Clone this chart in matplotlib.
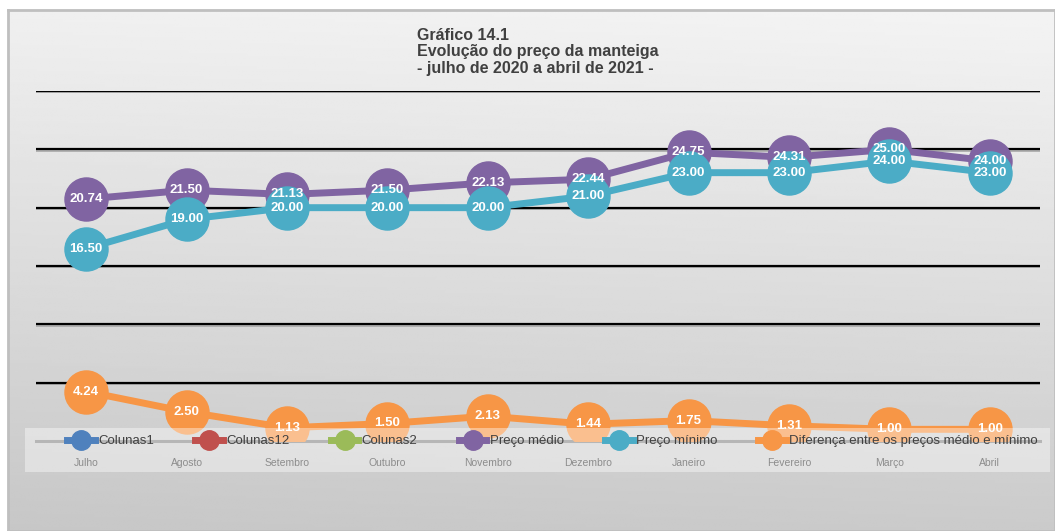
import numpy as np
import matplotlib
matplotlib.use("Agg")
import matplotlib.pyplot as plt
from matplotlib.lines import Line2D
from matplotlib.patches import Rectangle

plt.rcParams['font.family'] = ['Liberation Sans', 'DejaVu Sans']

# data
meses = ['Julho', 'Agosto', 'Setembro', 'Outubro', 'Novembro', 'Dezembro',
         'Janeiro', 'Fevereiro', 'Março', 'Abril']
preco_medio = [20.74, 21.50, 21.13, 21.50, 22.13, 22.44, 24.75, 24.31, 25.00, 24.00]
preco_minimo = [16.50, 19.00, 20.00, 20.00, 20.00, 21.00, 23.00, 23.00, 24.00, 23.00]
diferenca = [4.24, 2.50, 1.13, 1.50, 2.13, 1.44, 1.75, 1.31, 1.00, 1.00]
titulo = "Gráfico 14.1\nEvolução do preço da manteiga\n- julho de 2020 a abril de 2021 -"

c_medio = '#8064a2'
c_minimo = '#4bacc6'
c_dif = '#f79646'

W, H = 1055, 531
fig = plt.figure(figsize=(W / 100, H / 100), dpi=100)
fig.patch.set_facecolor('white')

# background panel with soft gradient
bg = fig.add_axes([8 / W, 0, 1 - 8 / W, 1 - 10 / H], zorder=-10)
gy, gx = np.mgrid[0:1:200j, 0:1:200j]
grad = 0.94 - 0.16 * gy + 0.015 * gx
bg.imshow(grad, cmap='gray', vmin=0, vmax=1, aspect='auto', extent=[0, 1, 1, 0])
bg.set_xlim(0, 1)
bg.set_ylim(1, 0)
bg.set_xticks([])
bg.set_yticks([])
for s in bg.spines.values():
    s.set_color('#bfbfbf')
    s.set_linewidth(2)

ax = fig.add_axes([36 / W, (H - 441) / H, (1040 - 36) / W, 350 / H])
ax.patch.set_alpha(0)
x = np.arange(len(meses))
ax.set_xlim(-0.5, len(meses) - 0.5)
ax.set_ylim(0, 30)

# gridlines, black with a faint shadow
for yv in range(5, 31, 5):
    ax.axhline(yv - 0.12, color='#a8a8a8', lw=1.2, zorder=1)
    ax.axhline(yv, color='black', lw=1.6, zorder=1.2)

ax.plot(x, preco_medio, color=c_medio, lw=5, marker='o', ms=31, zorder=3)
ax.plot(x, preco_minimo, color=c_minimo, lw=5, marker='o', ms=31, zorder=3.5)
ax.plot(x, diferenca, color=c_dif, lw=5, marker='o', ms=31, zorder=4)

for serie in (preco_medio, preco_minimo, diferenca):
    for xi, v in zip(x, serie):
        ax.text(xi, v, f'{v:.2f}', color='white', fontsize=9.5, fontweight='bold',
                ha='center', va='center', zorder=10)

# legend band over the bottom of the plot
ax.add_patch(Rectangle((25 / W, (H - 472) / H), 1025 / W, 44 / H, transform=fig.transFigure,
                       facecolor='white', alpha=0.4, edgecolor='none', zorder=6, clip_on=False))

ax.set_yticks([])
ax.set_xticks(x)
ax.set_xticklabels(meses, fontsize=7.5, color='#8c8c8c')
ax.tick_params(axis='x', length=0, pad=12)
ax.xaxis.set_zorder(7)
for side in ('top', 'left', 'right'):
    ax.spines[side].set_visible(False)
ax.spines['bottom'].set_color('#878787')
ax.spines['bottom'].set_linewidth(2.2)

handles = [
    Line2D([], [], color='#4f81bd', lw=5, marker='o', ms=14),
    Line2D([], [], color='#c0504d', lw=5, marker='o', ms=14),
    Line2D([], [], color='#9bbb59', lw=5, marker='o', ms=14),
    Line2D([], [], color=c_medio, lw=5, marker='o', ms=14),
    Line2D([], [], color=c_minimo, lw=5, marker='o', ms=14),
    Line2D([], [], color=c_dif, lw=5, marker='o', ms=14),
]
labels = ['Colunas1', 'Colunas12', 'Colunas2', 'Preço médio', 'Preço mínimo',
          'Diferença entre os preços médio e mínimo']
fig.legend(handles, labels, loc='center left', bbox_to_anchor=(62 / W, (H - 441) / H), ncol=6,
           frameon=False, fontsize=9.5, handlelength=2.1, handletextpad=0.25,
           columnspacing=3.12, labelcolor='#404040', borderaxespad=0)

fig.text(417 / W, 1 - 28 / H, titulo, ha='left', va='top', fontsize=11.5,
         fontweight='bold', color='#404040', linespacing=1.12)

fig.savefig('out.png', dpi=100)
